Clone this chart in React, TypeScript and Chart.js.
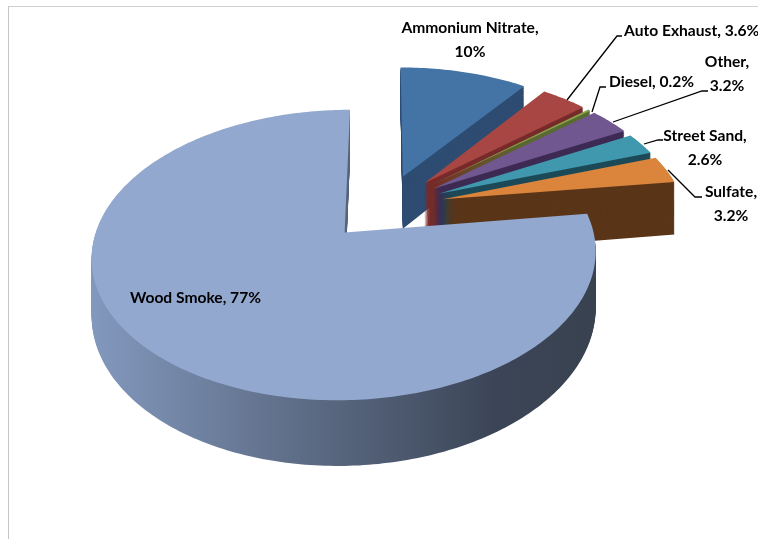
import React, { useEffect, useRef } from "react";
import { Chart, registerables } from "chart.js";

Chart.register(...registerables);

// Share of each source, in percent, clockwise from twelve o'clock.
const sources = ["Ammonium Nitrate", "Auto Exhaust", "Diesel", "Other", "Street Sand", "Sulfate", "Wood Smoke"];
const shares = [10, 3.6, 0.2, 3.2, 2.6, 3.2, 77];
const topColors = ["#4473A6", "#A84644", "#87A34D", "#70578F", "#4098AE", "#DA843C", "#93A8CF"];
const wallColors = ["#2E4C72", "#772B2A", "#5A6C30", "#3E2B54", "#1D4A58", "#5A3518", ""];

// Label layout: wrapped lines, anchor x, first line's middle y, alignment.
const labelBreaks = [1, 2, 2, 1, 1, 1, 2];
const labelX = [470, 624, 609, 727, 705, 731, 130];
const labelY = [28, 31, 82, 62, 136, 192, 298];
const labelAlign: CanvasTextAlign[] = ["center", "left", "left", "center", "center", "center", "left"];

// Leader lines as [x, y] runs from a slice rim to its label.
const leaders: number[][][] = [
  [],
  [[567, 100], [617, 36], [622, 36]],
  [[592, 112], [600, 87], [606, 87]],
  [[613, 122], [702, 91], [708, 91]],
  [[644, 144], [658, 140], [663, 140]],
  [[668, 170], [695, 197], [702, 197]],
  [],
];

const FONT = "bold 15.6px Lato, 'Liberation Sans', sans-serif";

// View of the tilted pie: screen centre, scales, perspective and slab depth.
const CX = 385;
const CY = 207;
const SX = 242;
const SY = 134;
const PERSPECTIVE = 0.15;
const DEPTH = 54;
const PIE_RADIUS = 219;
const EXPLODE = 54;

const project = (u: number, v: number, d: number): [number, number] => {
  const w = 1 - PERSPECTIVE * v;
  return [CX + (SX * u) / w, CY + (SY * v + d) / w];
};

const pie3d = {
  id: "pie3d",
  beforeDatasetsDraw(chart: any) {
    const { ctx } = chart;
    const arcs = chart.getDatasetMeta(0).data;
    ctx.save();
    arcs.forEach((arc: any, i: number) => {
      const { startAngle, endAngle, outerRadius } = arc.getProps(["startAngle", "endAngle", "outerRadius"]);
      const mid = (startAngle + endAngle) / 2;
      const shift = arc.options.offset / outerRadius;
      const u0 = Math.cos(mid) * shift;
      const v0 = Math.sin(mid) * shift;
      const steps = Math.max(4, Math.ceil((endAngle - startAngle) * 60));
      const trace = (d: number) => {
        ctx.beginPath();
        ctx.moveTo(...project(u0, v0, d));
        for (let s = 0; s <= steps; s++) {
          const a = startAngle + ((endAngle - startAngle) * s) / steps;
          ctx.lineTo(...project(u0 + Math.cos(a), v0 + Math.sin(a), d));
        }
        ctx.closePath();
      };
      let wall: any = wallColors[i];
      if (!wall) {
        wall = ctx.createLinearGradient(92, 0, 596, 0);
        wall.addColorStop(0, "#8298BD");
        wall.addColorStop(0.4, "#5F6E88");
        wall.addColorStop(0.8, "#3B4557");
        wall.addColorStop(1, "#39424F");
      }
      ctx.fillStyle = wall;
      for (let d = DEPTH; d > 0; d -= 1) {
        trace(d);
        ctx.fill();
      }
      ctx.fillStyle = arc.options.backgroundColor;
      trace(0);
      ctx.fill();
    });

    ctx.strokeStyle = "#000";
    ctx.lineWidth = 1.3;
    leaders.forEach((run) => {
      if (!run.length) return;
      ctx.beginPath();
      run.forEach(([x, y], k) => (k ? ctx.lineTo(x, y) : ctx.moveTo(x, y)));
      ctx.stroke();
    });

    ctx.fillStyle = "#000";
    ctx.font = FONT;
    ctx.textBaseline = "middle";
    sources.forEach((name, i) => {
      ctx.textAlign = labelAlign[i];
      const value = `${shares[i]}%`;
      if (labelBreaks[i] === 2) {
        ctx.fillText(`${name}, ${value}`, labelX[i], labelY[i]);
      } else {
        ctx.fillText(`${name},`, labelX[i], labelY[i]);
        ctx.fillText(value, labelX[i], labelY[i] + 24);
      }
    });
    ctx.restore();
    return false;
  },
};

export default function App() {
  const ref = useRef<HTMLCanvasElement>(null);
  useEffect(() => {
    const chart = new Chart(ref.current!, {
      type: "pie",
      data: {
        labels: sources,
        datasets: [{ data: shares, backgroundColor: topColors, offset: EXPLODE, borderWidth: 0 }],
      },
      options: {
        responsive: false,
        animation: false,
        radius: PIE_RADIUS,
        plugins: { legend: { display: false }, tooltip: { enabled: false } },
      },
      plugins: [pie3d],
    } as any);
    return () => chart.destroy();
  }, []);
  return (
    <div style={{ position: "fixed", left: 0, top: 0, width: 758, height: 539, background: "#fff" }}>
      <canvas ref={ref} width={758} height={539} style={{ position: "absolute", left: 0, top: 0 }} />
      <div style={{ position: "absolute", left: 8, top: 6, right: 0, bottom: 0, borderLeft: "1px solid #c6c6c6", borderTop: "1px solid #d0d0d0", pointerEvents: "none" }} />
    </div>
  );
}
